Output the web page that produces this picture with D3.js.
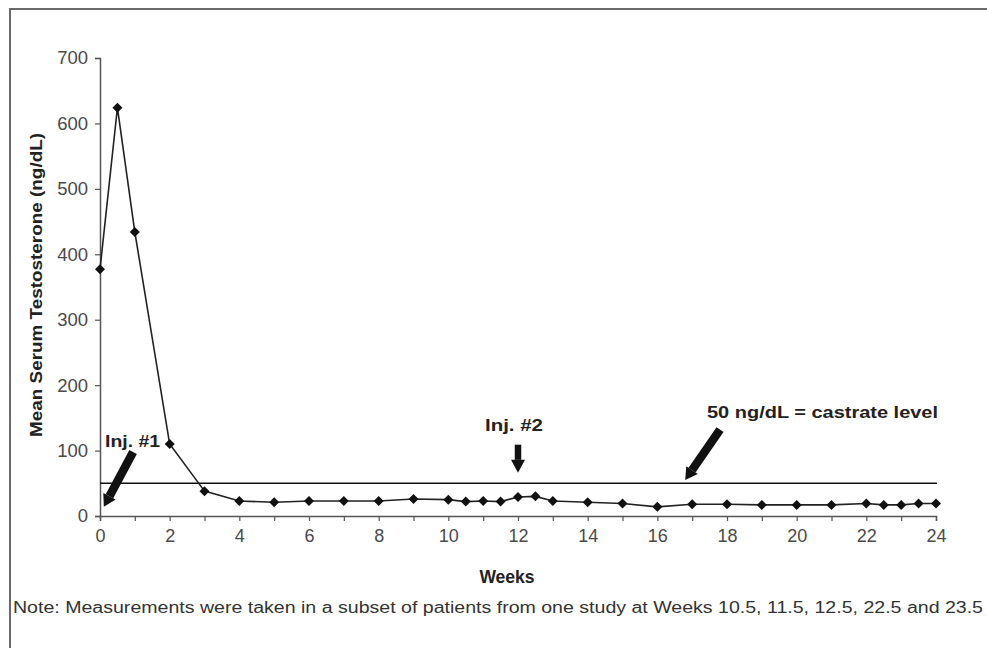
<!DOCTYPE html>
<html>
<head>
<meta charset="utf-8">
<script src="https://cdn.jsdelivr.net/npm/d3@7"></script>
<style>
  body { margin: 0; background: #fff; }
  svg { display: block; font-family: 'Liberation Sans', Arial, sans-serif; }
</style>
</head>
<body>
<div id="app"></div>
<script>
// datos
const weeks = [0, 0.5, 1, 2, 3, 4, 5, 6, 7, 8, 9, 10, 10.5, 11, 11.5, 12, 12.5, 13, 14, 15, 16, 17, 18, 19, 20, 21, 22, 22.5, 23, 23.5, 24]
const testosterone = [377, 624, 434, 110, 38, 23, 21, 23, 23, 23, 26, 25, 22, 23, 22, 29, 30, 23, 21, 19, 14, 18, 18, 17, 17, 17, 19, 17, 17, 19, 19]
const yTicks = [0, 100, 200, 300, 400, 500, 600, 700]
const xTicks = d3.range(0, 25, 1)
const xLabels = d3.range(0, 25, 2)
const castrateLevel = 50

const w = 987
const h = 648

const svg = d3.select('#app')
  .append('svg')
  .attr('width', w)
  .attr('height', h)

// marco
svg.append('rect')
  .attr('x', 10)
  .attr('y', 9)
  .attr('width', 1000)
  .attr('height', 700)
  .attr('fill', 'none')
  .attr('stroke', '#6a6a6a')
  .attr('stroke-width', 2)

const xScale = d3.scaleLinear().domain([0, 24]).range([100, 936])
const yScale = d3.scaleLinear().domain([0, 700]).range([516, 58])

// eje y
const yAxis = d3.axisLeft(yScale)
  .tickValues(yTicks)
  .tickSize(5)
  .tickPadding(7)
const gy = svg.append('g')
  .attr('transform', 'translate(100,0)')
  .call(yAxis)
gy.attr('font-size', null)
gy.select('.domain').attr('stroke', '#555').attr('stroke-width', 1.5)
gy.selectAll('.tick line').attr('stroke', '#555').attr('stroke-width', 1.2)
gy.selectAll('.tick text')
  .attr('fill', '#4a4a4a')
  .attr('font-size', 18.5)

// eje x
const xAxis = d3.axisBottom(xScale)
  .tickValues(xTicks)
  .tickSize(5)
  .tickPadding(8)
  .tickFormat(d => xLabels.includes(d) ? d : '')
const gx = svg.append('g')
  .attr('transform', 'translate(0,516)')
  .call(xAxis)
gx.attr('font-size', null)
gx.select('.domain').attr('stroke', '#555').attr('stroke-width', 1.5)
gx.selectAll('.tick line').attr('stroke', '#555').attr('stroke-width', 1.2)
gx.selectAll('.tick text')
  .attr('fill', '#4a4a4a')
  .attr('font-size', 18)

// linea de castracion
svg.append('line')
  .attr('x1', xScale(0))
  .attr('x2', xScale(24) + 1)
  .attr('y1', yScale(castrateLevel))
  .attr('y2', yScale(castrateLevel))
  .attr('stroke', '#111')
  .attr('stroke-width', 1.6)

// serie
const points = weeks.map((d, i) => [d, testosterone[i]])
svg.append('path')
  .datum(points)
  .attr('fill', 'none')
  .attr('stroke', '#222')
  .attr('stroke-width', 1.6)
  .attr('d', d3.line().x(d => xScale(d[0])).y(d => yScale(d[1])))

svg.selectAll('.marker')
  .data(points)
  .enter()
  .append('path')
  .attr('class', 'marker')
  .attr('transform', d => `translate(${xScale(d[0])},${yScale(d[1])}) rotate(45)`)
  .attr('d', d3.symbol().type(d3.symbolSquare).size(50))
  .attr('fill', '#111')

// flechas
function arrow(x0, y0, x1, y1, width, head, headLen) {
  const X0 = xScale(x0), Y0 = yScale(y0), X1 = xScale(x1), Y1 = yScale(y1)
  const ang = Math.atan2(Y1 - Y0, X1 - X0)
  const bx = X1 - headLen * Math.cos(ang)
  const by = Y1 - headLen * Math.sin(ang)
  svg.append('line')
    .attr('x1', X0).attr('y1', Y0)
    .attr('x2', bx).attr('y2', by)
    .attr('stroke', '#111')
    .attr('stroke-width', width)
  const px = -Math.sin(ang), py = Math.cos(ang)
  svg.append('path')
    .attr('d', `M${X1},${Y1}L${bx + px * head},${by + py * head}L${bx - px * head},${by - py * head}Z`)
    .attr('fill', '#111')
}
arrow(0.95, 98, 0.11, 14, 8.5, 7, 12)
arrow(12, 109, 12, 66, 6.5, 7, 13)
arrow(17.8, 132, 16.8, 55, 8.5, 7, 12)

// etiquetas
svg.append('text')
  .attr('x', 105).attr('y', 447)
  .attr('font-size', 17).attr('font-weight', 'bold').attr('fill', '#222')
  .attr('textLength', 55).attr('lengthAdjust', 'spacingAndGlyphs')
  .text('Inj. #1')
svg.append('text')
  .attr('x', xScale(12) - 33).attr('y', 431)
  .attr('font-size', 17).attr('font-weight', 'bold').attr('fill', '#222')
  .attr('textLength', 58).attr('lengthAdjust', 'spacingAndGlyphs')
  .text('Inj. #2')
svg.append('text')
  .attr('x', 707).attr('y', 418)
  .attr('font-size', 17).attr('font-weight', 'bold').attr('fill', '#222')
  .attr('textLength', 231).attr('lengthAdjust', 'spacingAndGlyphs')
  .text('50 ng/dL = castrate level')

svg.append('text')
  .attr('transform', 'translate(42,285) rotate(-90)')
  .attr('text-anchor', 'middle')
  .attr('font-size', 16.5).attr('font-weight', 'bold').attr('fill', '#222')
  .attr('textLength', 304).attr('lengthAdjust', 'spacingAndGlyphs')
  .text('Mean Serum Testosterone (ng/dL)')

svg.append('text')
  .attr('x', 507).attr('y', 583)
  .attr('text-anchor', 'middle')
  .attr('font-size', 17.5).attr('font-weight', 'bold').attr('fill', '#222')
  .text('Weeks')

svg.append('text')
  .attr('x', 13).attr('y', 613)
  .attr('font-size', 16).attr('fill', '#333')
  .attr('textLength', 970)
  .attr('lengthAdjust', 'spacingAndGlyphs')
  .text('Note: Measurements were taken in a subset of patients from one study at Weeks 10.5, 11.5, 12.5, 22.5 and 23.5')
</script>
</body>
</html>
